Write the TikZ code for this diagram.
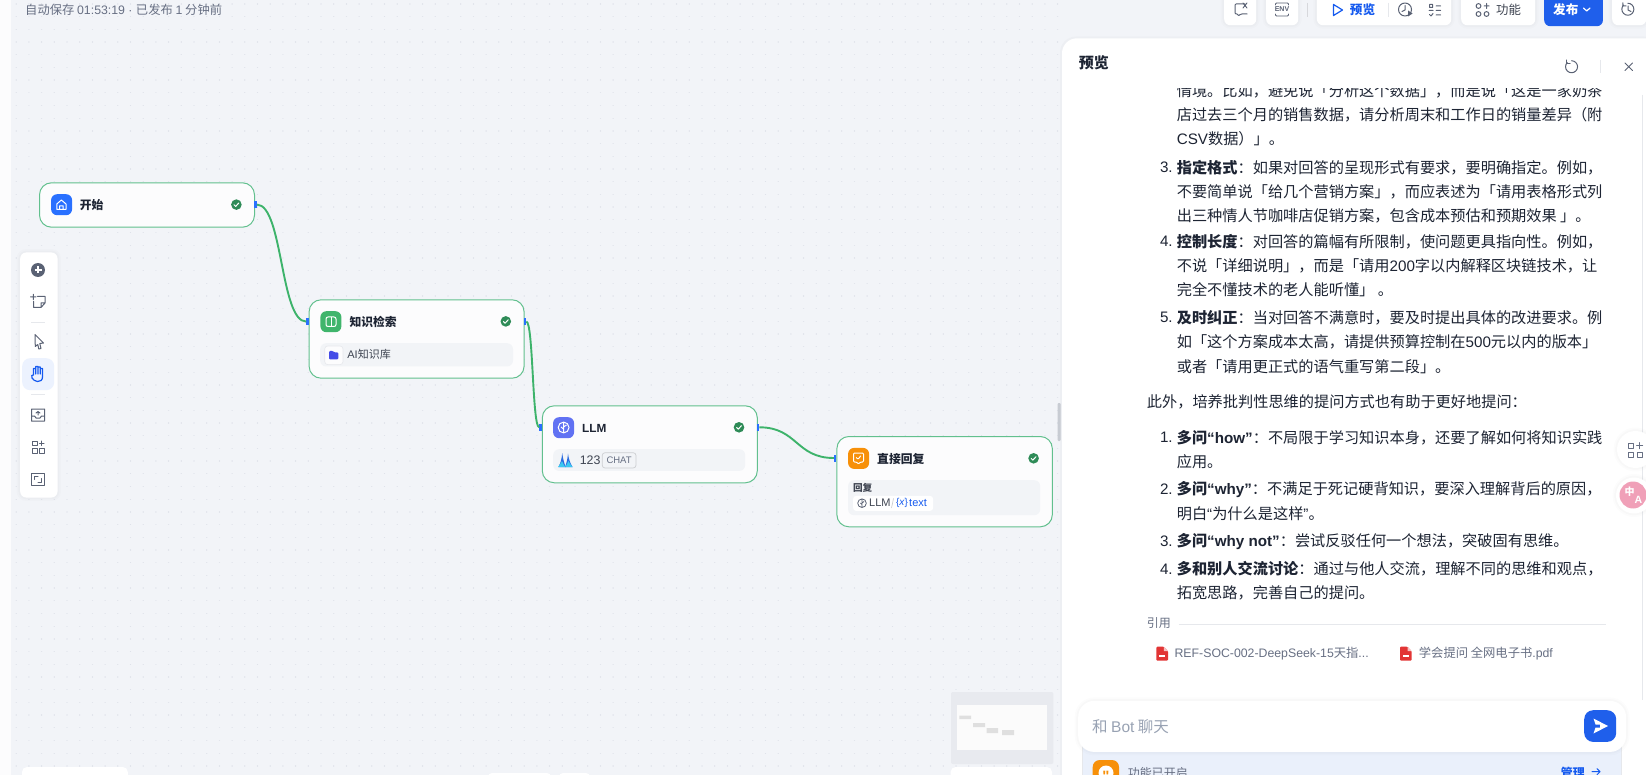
\documentclass[tikz,border=0pt]{standalone}
\usepackage{fontspec}
\setmainfont{Noto Sans CJK SC}
\newfontfamily\lat{Liberation Sans}
\usetikzlibrary{calc}
\definecolor{canvasc}{HTML}{F2F4F8}
\definecolor{stripc}{HTML}{FCFCFD}
\definecolor{dotc}{HTML}{DFE2EA}
\definecolor{edgec}{HTML}{3DB36B}
\definecolor{borderc}{HTML}{62C08E}
\definecolor{portc}{HTML}{2970FF}
\definecolor{okc}{HTML}{2E8B57}
\definecolor{bodyc}{HTML}{1D2433}
\definecolor{grayc}{HTML}{676F83}
\definecolor{iconc}{HTML}{5A6274}
\definecolor{innerc}{HTML}{F2F4F7}
\definecolor{bluec}{HTML}{155AEF}
\definecolor{btnblue}{HTML}{1F5FEB}
\definecolor{hairc}{HTML}{E6E8EC}
\definecolor{orangec}{HTML}{F79009}
\definecolor{folderc}{HTML}{444CE7}
\definecolor{llmc}{HTML}{6172F3}
\definecolor{kbc}{HTML}{40B56C}
\definecolor{peakc}{HTML}{2B6CE0}
\definecolor{cyanc}{HTML}{3CC8F0}
\definecolor{minibg}{HTML}{E8EAEF}
\definecolor{miniin}{HTML}{FBFBFB}
\definecolor{minibox}{HTML}{DFDFDF}
\definecolor{scrollc}{HTML}{C8CCD3}
\definecolor{pdfc}{HTML}{E23535}
\definecolor{barc}{HTML}{EAF0FB}
\definecolor{phc}{HTML}{98A2B3}
\definecolor{pinkc}{HTML}{F0A0B8}
\newcommand\fs[1]{\fontsize{#1}{#1}\selectfont}
\newcommand\okmark[2]{%
  \fill[okc] (#1,#2) circle (5.3);
  \draw[white,line width=1pt,line cap=round,line join=round] (#1-2.4,#2+.2) -- (#1-.7,#2+1.8) -- (#1+2.4,#2-1.6);}
\tikzset{
  x=1pt,y=-1pt,
  softshadow/.style={preaction={draw=black,opacity=.012,line width=7pt},preaction={draw=black,opacity=.016,line width=3.5pt}},
  flownode/.style={draw=borderc,line width=1pt,fill=stripc,rounded corners=12,inner sep=0,anchor=north west},
  inbox/.style={fill=innerc,rounded corners=6,inner sep=0,anchor=north west},
  portbar/.style={fill=portc,inner sep=0,minimum width=2.4,minimum height=7},
  edge/.style={draw=edgec,line width=1.9pt},
  tile/.style={rounded corners=6,inner sep=0,anchor=north west,minimum width=21,minimum height=21},
  title/.style={inner sep=0,anchor=west,font=\fs{11.8}\bfseries,text=bodyc},
  txt/.style={inner sep=0,anchor=west,font=\fs{15.2},text=bodyc},
  btn/.style={fill=white,rounded corners=6,inner sep=0,anchor=north west,softshadow},
  ico/.style={draw=iconc,line width=1pt,line cap=round,line join=round},
}
\begin{document}
\begin{tikzpicture}
\clip (0,0) rectangle (1646,775);
% canvas
\fill[canvasc] (0,0) rectangle (1646,775);
\fill[stripc] (0,0) rectangle (11,775);
\foreach \j in {0,...,60} {
  \draw[dotc,line width=1.3pt,line cap=round,dash pattern=on 0.01pt off 12.69pt] (16.2,{3.9+12.7*\j}) -- (1060,{3.9+12.7*\j});
}
% top-left status
\node[inner sep=0,anchor=west,font=\fs{12.3},text=grayc] (status) at (25,9.5) {自动保存 {\lat 01:53:19 · }已发布 {\lat 1} 分钟前};

% toolbar
\node[btn,minimum width=37.3,minimum height=245] (toolbar) at (20,252.3) {};
\fill[iconc] (38,270) circle (7);
\draw[white,line width=1.5pt] (34.5,270) -- (41.5,270) (38,266.5) -- (38,273.5);
\draw[ico] (37.5,296.5) -- (45,296.5) -- (45,303) -- (41,307.5) -- (33.5,307.5) -- (33.5,301.5) (45,303) -- (41,303) -- (41,307.5) (30.5,297) -- (36,297) (33.3,294.3) -- (33.3,299.7);
\draw[hairc,line width=1pt] (31,322.3) -- (45,322.3) (31,394.3) -- (45,394.3);
\draw[ico] (35,334.5) -- (43.5,343) -- (39.8,343.5) -- (41,348.5) -- (38.8,349) -- (37.8,344.5) -- (35.3,346.5) -- cycle;
\node[fill=bluec!8,rounded corners=8,inner sep=0,minimum width=32,minimum height=32,anchor=north west] (handbg) at (22,358) {};
\draw[bluec,line width=1.2pt,line cap=round,line join=round,fill=bluec!8] (33.5,375) -- (33.5,368.5) -- (35.8,368.5) -- (35.8,374) (35.8,368.5) -- (35.8,366.5) -- (38,366.5) -- (38,374) (38,367) -- (40.2,367) -- (40.2,374) (40.2,368.5) -- (42.5,368.5) -- (42.5,377) .. controls (42.5,380.5) and (40,381.5) .. (37.5,381.5) .. controls (34.5,381.5) and (33.5,379.5) .. (32,378) -- (31.8,375.5) -- (33.5,375);
\draw[ico] (31.5,409) rectangle (44.5,421) (31.5,416) -- (34.5,416) -- (36,418) -- (40,418) -- (41.5,416) -- (44.5,416) (38,415) -- (38,411.5) (36,413) -- (38,411.5) -- (40,413);
\draw[ico] (32.5,441) rectangle (37,445.5) (32.5,448.5) rectangle (37,453) (39.5,448.5) rectangle (44,453) (39.5,443.3) -- (44,443.3) (41.8,441) -- (41.8,445.5);
\draw[ico] (31.5,473) rectangle (44.5,485) (34.5,479.5) -- (34.5,476) -- (38,476) (41.5,478.5) -- (41.5,482) -- (38,482);

% workflow nodes
\node[flownode,minimum width=215,minimum height=44.4] (start) at (39,182.3) {};
\node[flownode,minimum width=215,minimum height=78.4] (kb) at (308.6,299.3) {};
\node[flownode,minimum width=215,minimum height=77] (llm) at (541.8,405.3) {};
\node[flownode,minimum width=215.4,minimum height=90.3] (reply) at (836.4,436) {};

% ports
\node[portbar] (startR) at (255.5,204.6) {};
\node[portbar] (kbL) at (307.6,321.6) {};
\node[portbar] (kbR) at (524.9,321.6) {};
\node[portbar] (llmL) at (540.6,427.3) {};
\node[portbar] (llmR) at (758,427.3) {};
\node[portbar] (replyL) at (835.2,458) {};

% connectors
\draw[edge] (startR.east) .. controls +(26,0) and +(-26,0) .. (kbL.west);
\draw[edge] (kbR.east) .. controls +(7,0) and +(-7,0) .. (llmL.west);
\draw[edge] (llmR.east) .. controls +(38,0) and +(-38,0) .. (replyL.west);

% start content
\node[tile,fill=portc] (startIcon) at (50.9,194) {};
\draw[white,line width=1pt,line join=round] (56.8,204) -- (61.4,200) -- (66,204) -- (66,209.5) -- (56.8,209.5) -- cycle (59.6,209.5) -- (59.6,205.8) -- (63.2,205.8) -- (63.2,209.5);
\node[title] (startT) at (79.6,204.6) {开始};
\okmark{236.4}{204.6}

% knowledge content
\node[tile,fill=kbc] (kbIcon) at (320.2,311) {};
\draw[white,line width=1pt,rounded corners=2] (326,317) rectangle (336,326.5);
\draw[white,line width=1pt] (331,317) -- (331,326.5);
\node[title] (kbT) at (349.3,321.6) {知识检索};
\okmark{505.8}{321.4}
\node[inbox,minimum width=192.8,minimum height=23.3] (kbBox) at (320,343) {};
\node[draw=hairc,fill=stripc,line width=.6pt,rounded corners=3,inner sep=0,minimum width=18.3,minimum height=18.6,anchor=north west] (kbTile) at (324.4,345.7) {};
\fill[folderc,rounded corners=1] (329,351) -- (333,351) -- (334.5,352.5) -- (338.3,352.5) -- (338.3,359.3) -- (329,359.3) -- cycle;
\node[inner sep=0,anchor=west,font=\fs{11},text=bodyc!85] (kbLib) at (347.2,354.5) {{\lat AI}知识库};

% llm content
\node[tile,fill=llmc] (llmIcon) at (552.9,417) {};
\draw[white,line width=1pt] (563.6,427.5) circle (5.4) (563.6,422.1) -- (563.6,432.9) (563.6,427) -- (566.5,425) (563.6,429) -- (561,427);
\node[title] (llmT) at (582,428) {\lat LLM};
\okmark{739}{427.3}
\node[inbox,minimum width=192,minimum height=21.7] (llmBox) at (553,449) {};
\fill[peakc] (558.5,467) .. controls (561,462) and (561.8,458) .. (562.2,453) .. controls (562.8,458) and (564,462) .. (565.5,467) -- cycle;
\fill[peakc] (565,467) .. controls (567,462) and (567.6,458) .. (568,453.5) .. controls (568.5,458) and (570,463) .. (572.5,467) -- cycle;
\fill[cyanc] (558,467) .. controls (560,464.5) and (561,463) .. (562,461) .. controls (563,463.5) and (564,465) .. (565.2,467) -- cycle;
\fill[cyanc] (565.2,467) .. controls (566.5,465) and (567.5,463.5) .. (568.4,461) .. controls (569.5,463.5) and (571,465) .. (572.5,467) -- cycle;
\node[inner sep=0,anchor=west,font=\lat\fs{12.4},text=bodyc!85] (llmModel) at (579.6,460) {123};
\node[draw=hairc!75!gray,fill=innerc,line width=.7pt,rounded corners=3,inner sep=0,minimum width=33.9,minimum height=15.4,anchor=north west,font=\lat\fs{9.5},text=grayc] (llmChat) at (601.8,452.3) {CHAT};

% reply content
\node[tile,fill=orangec] (replyIcon) at (847.9,447.7) {};
\draw[white,line width=1pt,rounded corners=1,line join=round] (853.5,453) -- (863.5,453) -- (863.5,462) -- (860.5,462) -- (858.5,464) -- (856.5,462) -- (853.5,462) -- cycle (856.2,457.5) -- (858,459.3) -- (860.8,455.8);
\node[title] (replyT) at (877,458.6) {直接回复};
\okmark{1033.6}{458.3}
\node[inbox,minimum width=192.1,minimum height=35] (replyBox) at (847.9,480) {};
\node[inner sep=0,anchor=west,font=\fs{9.6}\bfseries,text=bodyc!85] (replyLbl) at (852.9,488.3) {回复};
\node[fill=white,rounded corners=3,inner sep=0,minimum width=80,minimum height=15,anchor=north west] (replyChip) at (852.9,495.7) {};
\draw[iconc,line width=.8pt] (862,503.2) circle (4.3) (862,498.9) -- (862,507.5) (862,503) -- (864,501.5) (862,504.5) -- (860.3,503);
\node[inner sep=0,anchor=west,font=\lat\fs{11},text=bodyc!85] (replyV) at (869,503.2) {LLM};
\draw[hairc!70!gray,line width=.6pt] (891.5,508) -- (893.5,498.5);
\node[inner sep=0,anchor=west,font=\lat\fs{10},text=bluec] (replyX) at (895.8,502.8) {\{\textit{x}\}};
\node[inner sep=0,anchor=west,font=\lat\fs{11},text=bluec] (replyTxt) at (909,503.2) {text};

% minimap
\fill[minibg,rounded corners=2] (951,692) rectangle (1053.4,764);
\fill[miniin] (957.4,705.3) rectangle (1046.7,750.3);
\fill[minibox] (959.4,715.7) rectangle (971,719) (973,723) rectangle (985,727) (986.5,728) rectangle (998,733) (1002,730) rectangle (1014,735);
% bottom chips
\fill[white,rounded corners=5] (22,767) rectangle (127.8,790);
\fill[white,rounded corners=4] (488,773) rectangle (551,790);
\fill[white,rounded corners=4] (559,773) rectangle (590,790);
\fill[white,rounded corners=5] (950.6,767) rectangle (1052,790);
% scrollbar handle
\fill[scrollc,rounded corners=1] (1057.5,403) rectangle (1060.5,441);

% top bar
\node[btn,minimum width=32,minimum height=45] (btnA) at (1224,-20) {};
\node[btn,minimum width=32,minimum height=45] (btnB) at (1266,-20) {};
\node[btn,minimum width=134.3,minimum height=45] (btnC) at (1316.7,-20) {};
\node[btn,minimum width=74,minimum height=45] (btnD) at (1461,-20) {};
\node[fill=btnblue,rounded corners=6,inner sep=0,anchor=north west,minimum width=58.7,minimum height=46] (btnE) at (1544,-20) {};
\node[btn,minimum width=34,minimum height=45] (btnF) at (1612,-20) {};
\draw[ico,rounded corners=1] (1245,4) -- (1235,4) -- (1235,14) -- (1238,14) -- (1238,16) -- (1241,14) -- (1247,14);
\draw[ico,line width=.9pt] (1243,3) -- (1247,8) (1247,3) -- (1243,8);
\draw[ico,line width=.9pt,rounded corners=1] (1275.5,5) -- (1275.5,3) -- (1288.5,3) -- (1288.5,5) (1275.5,14) -- (1275.5,16) -- (1288.5,16) -- (1288.5,14);
\node[inner sep=0,font=\lat\bfseries\fs{7},text=iconc] (envT) at (1282,9.5) {ENV};
\draw[hairc!85!gray,line width=.8pt] (1307.3,3) -- (1307.3,17);
\draw[bluec,line width=1.2pt,line join=round] (1333.5,4.5) -- (1342.5,10) -- (1333.5,15.5) -- cycle;
\node[inner sep=0,anchor=west,font=\fs{12.6}\bfseries,text=bluec] (pvT) at (1349.7,9.7) {预览};
\draw[hairc,line width=1pt] (1388,3) -- (1388,17);
\draw[ico] (1405,9.5) circle (6.5) (1405,5.5) -- (1405,10) -- (1402,11.5);
\fill[iconc] (1408,10.5) -- (1412.5,13.5) -- (1408,16.5) -- cycle;
\draw[ico] (1429.5,4.5) rectangle (1432.5,7.5) (1436,6) -- (1440.5,6) (1436,10.5) -- (1440.5,10.5) (1436,15) -- (1440.5,15) (1429,10.5) -- (1433,10.5) (1429.5,14.5) -- (1431,16) -- (1433,13.5);
\draw[ico] (1478.5,6) circle (2.4) (1478.5,14) circle (2.4) (1486.5,14) circle (2.4) (1484,6) -- (1489,6) (1486.5,3.5) -- (1486.5,8.5);
\node[inner sep=0,anchor=west,font=\fs{12.4},text=bodyc!85] (fnT) at (1496,10) {功能};
\node[inner sep=0,anchor=west,font=\fs{12.6}\bfseries,text=white] (pubT) at (1553,10) {发布};
\draw[white,line width=1.2pt,line cap=round,line join=round] (1583.5,8) -- (1586.7,11) -- (1590,8);
\draw[ico] (1623.6,5) arc[start angle=225,end angle=-90,radius=6];
\draw[ico] (1622.8,2.8) -- (1622.8,6) -- (1626,6) (1628,6) -- (1628,10) -- (1631,11.5);

% preview panel
\fill[black,opacity=.02,rounded corners=16] (1060,36.5) rectangle (1660,790);
\fill[white,rounded corners=15] (1062,38.3) rectangle (1660,790);
\draw[hairc,line width=.6pt] (1642,95) -- (1642,700);
\node[inner sep=0,anchor=west,font=\fs{15}\bfseries,text=bodyc] (pvHead) at (1078.7,63.3) {预览};
\draw[ico] (1567.3,62.5) arc[start angle=225,end angle=-90,radius=6];
\draw[ico] (1566.5,60) -- (1566.5,63.5) -- (1570,63.5);
\draw[hairc,line width=.8pt] (1600,60) -- (1600,73);
\draw[ico] (1625,63) -- (1632.5,70.5) (1632.5,63) -- (1625,70.5);

% answer text
\begin{scope}
\clip (1062,88.7) rectangle (1646,700);
\node[txt] (l0) at (1176.6,91) {情境。比如，避免说「分析这个数据」，而是说「这是一家奶茶};
\end{scope}
\node[txt] (l1) at (1176.6,115) {店过去三个月的销售数据，请分析周末和工作日的销量差异（附};
\node[txt] (l2) at (1176.6,139) {{\lat CSV}数据）」。};
\node[txt] (n3) at (1159.8,167.7) {\lat 3.};
\node[txt] (l3) at (1176.6,167.7) {\textbf{指定格式}：如果对回答的呈现形式有要求，要明确指定。例如，};
\node[txt] (l4) at (1176.6,191.7) {不要简单说「给几个营销方案」，而应表述为「请用表格形式列};
\node[txt] (l5) at (1176.6,215.7) {出三种情人节咖啡店促销方案，包含成本预估和预期效果 」。};
\node[txt] (n4) at (1159.8,241.7) {\lat 4.};
\node[txt] (l6) at (1176.6,241.7) {\textbf{控制长度}：对回答的篇幅有所限制，使问题更具指向性。例如，};
\node[txt] (l7) at (1176.6,265.7) {不说「详细说明」，而是「请用{\lat 200}字以内解释区块链技术，让};
\node[txt] (l8) at (1176.6,290) {完全不懂技术的老人能听懂」 。};
\node[txt] (n5) at (1159.8,317.7) {\lat 5.};
\node[txt] (l9) at (1176.6,317.7) {\textbf{及时纠正}：当对回答不满意时，要及时提出具体的改进要求。例};
\node[txt] (l10) at (1176.6,341.7) {如「这个方案成本太高，请提供预算控制在{\lat 500}元以内的版本」};
\node[txt] (l11) at (1176.6,366.7) {或者「请用更正式的语气重写第二段」。};
\node[txt] (p2) at (1146.7,401.7) {此外，培养批判性思维的提问方式也有助于更好地提问：};
\node[txt] (m1) at (1159.8,437.7) {\lat 1.};
\node[txt] (q1) at (1176.6,437.7) {\textbf{多问{\lat “how”}}：不局限于学习知识本身，还要了解如何将知识实践};
\node[txt] (q1b) at (1176.6,461.7) {应用。};
\node[txt] (m2) at (1159.8,489.3) {\lat 2.};
\node[txt] (q2) at (1176.6,489.3) {\textbf{多问{\lat “why”}}：不满足于死记硬背知识，要深入理解背后的原因，};
\node[txt] (q2b) at (1176.6,514) {明白{\lat “}为什么是这样{\lat ”}。};
\node[txt] (m3) at (1159.8,541.7) {\lat 3.};
\node[txt] (q3) at (1176.6,541.7) {\textbf{多问{\lat “why not”}}：尝试反驳任何一个想法，突破固有思维。};
\node[txt] (m4) at (1159.8,569) {\lat 4.};
\node[txt] (q4) at (1176.6,569) {\textbf{多和别人交流讨论}：通过与他人交流，理解不同的思维和观点，};
\node[txt] (q4b) at (1176.6,592.7) {拓宽思路，完善自己的提问。};

% citations
\node[inner sep=0,anchor=west,font=\fs{12},text=grayc] (cite) at (1146.7,623.3) {引用};
\draw[hairc,line width=.8pt] (1178.8,624.3) -- (1605.6,624.3);
\foreach \cx in {1156.4,1400} {
  \fill[pdfc,rounded corners=1] (\cx,646.7) -- (\cx+7.5,646.7) -- (\cx+11.6,651) -- (\cx+11.6,660.7) -- (\cx,660.7) -- cycle;
  \fill[white,opacity=.7] (\cx+7.5,646.7) -- (\cx+7.5,651) -- (\cx+11.6,651) -- cycle;
  \fill[white] (\cx+3,655) rectangle (\cx+8.6,656.8);
}
\node[inner sep=0,anchor=west,font=\fs{12.3},text=grayc] (f1) at (1174.4,653.7) {{\lat REF-SOC-002-DeepSeek-15}天指{\lat ...}};
\node[inner sep=0,anchor=west,font=\fs{12.3},text=grayc] (f2) at (1418.7,653.7) {学会提问 全网电子书{\lat .pdf}};

% bottom bar
\fill[barc,draw=hairc] (1082.4,745) rectangle (1621.6,790);
\fill[orangec,rounded corners=7] (1092.7,760) rectangle (1119,790);
\fill[white] (1106,773) circle (7.5);
\node[inner sep=0,font=\lat\bfseries\fs{15},text=orangec] (fq) at (1106,776) {"};
\node[inner sep=0,anchor=west,font=\fs{12},text=grayc] (fnOn) at (1127.7,773) {功能已开启};
\node[inner sep=0,anchor=west,font=\fs{12}\bfseries,text=bluec] (mgr) at (1560.7,773) {管理};
\draw[bluec,line width=1pt,line cap=round,line join=round] (1592,771.7) -- (1600,771.7) (1597,768.7) -- (1600,771.7) -- (1597,774.7);

% input box
\node[btn,minimum width=547.8,minimum height=51,rounded corners=16] (input) at (1078,700.7) {};
\node[inner sep=0,anchor=west,font=\fs{15.5},text=phc] (ph) at (1092,726.7) {和 {\lat Bot} 聊天};
\node[fill=btnblue,rounded corners=9,inner sep=0,minimum width=32,minimum height=31.7,anchor=north west] (send) at (1584,710) {};
\fill[white,line join=round] (1593.5,718.5) -- (1608,726) -- (1593.5,733.5) -- (1595.5,727.5) -- (1600,727.5) -- (1600,724.5) -- (1595.5,724.5) -- cycle;

% floating widgets
\node[circle,fill=white,inner sep=0,minimum size=37,softshadow] (fabA) at (1635.5,449.5) {};
\draw[ico,draw=grayc] (1628,443) rectangle (1633,448) (1628,452.5) rectangle (1633,457.7) (1637,452.5) rectangle (1642,457.7) (1636.5,445.7) -- (1642.5,445.7) (1639.5,442.7) -- (1639.5,448.7);
\node[circle,fill=white,inner sep=0,minimum size=36,softshadow] (fabB) at (1634,495.5) {};
\node[circle,fill=pinkc,inner sep=0,minimum size=27] (fabC) at (1633,495) {};
\node[inner sep=0,font=\bfseries\fs{10},text=white] (fabZh) at (1629.5,491.5) {中};
\node[inner sep=0,font=\lat\bfseries\fs{10.5},text=white] (fabEn) at (1638.5,499.5) {A};
\end{tikzpicture}
\end{document}
